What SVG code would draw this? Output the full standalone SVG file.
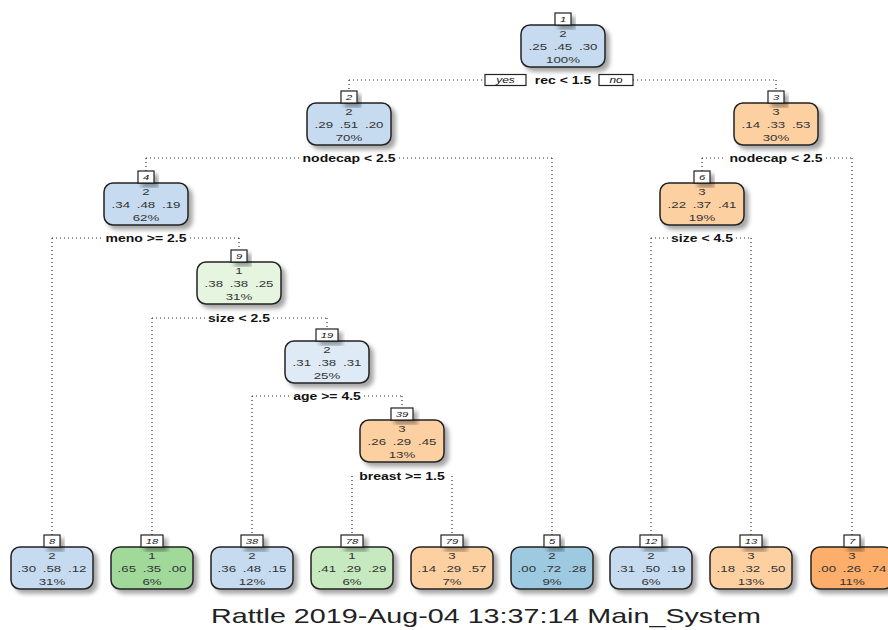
<svg xmlns="http://www.w3.org/2000/svg" width="888" height="630" viewBox="0 0 888 630">
<defs>
<filter id="sh" x="-20%" y="-20%" width="150%" height="160%"><feDropShadow dx="4" dy="4" stdDeviation="2" flood-color="#000" flood-opacity="0.35"/></filter>
</defs>
<style>
.box{stroke:#222;stroke-width:1.5;filter:url(#sh)}
.lab{fill:#fff;stroke:#222;stroke-width:1.2;filter:url(#sh)}
.blue{fill:#c6dbef}.pblue{fill:#deebf7}.dblue{fill:#9ecae1}
.or{fill:#fdd0a2}.dor{fill:#fdae6b}
.pg{fill:#e5f5e0}.lg{fill:#c7e9c0}.dg{fill:#a1d99b}
text{font-family:"Liberation Sans",Arial,sans-serif;text-anchor:middle}
.v{font-size:9.5px;fill:#333}
.id{font-size:8px;font-style:italic;fill:#111}
.sp{font-size:10px;font-weight:bold;fill:#111}
.yn{font-size:8.5px;font-style:italic;fill:#111}
.con line{stroke:#333;stroke-width:1.2;stroke-dasharray:1 3}
.cap{font-size:20.5px;fill:#222}
</style>
<rect width="888" height="630" fill="#fff"/>
<g class="con">
<line x1="349" y1="80" x2="485" y2="80"/><line x1="633" y1="80" x2="776" y2="80"/>
<line x1="349" y1="80" x2="349" y2="91"/><line x1="776" y1="80" x2="776" y2="91"/>
<line x1="146" y1="158" x2="299" y2="158"/><line x1="399" y1="158" x2="552" y2="158"/>
<line x1="146" y1="158" x2="146" y2="171"/><line x1="552" y1="158" x2="552" y2="535"/>
<line x1="702" y1="158" x2="726" y2="158"/><line x1="826" y1="158" x2="852" y2="158"/>
<line x1="702" y1="158" x2="702" y2="171"/><line x1="852" y1="158" x2="852" y2="535"/>
<line x1="52" y1="238" x2="102" y2="238"/><line x1="190" y1="238" x2="239" y2="238"/>
<line x1="52" y1="238" x2="52" y2="535"/><line x1="239" y1="238" x2="239" y2="250"/>
<line x1="651" y1="238" x2="668" y2="238"/><line x1="736" y1="238" x2="751" y2="238"/>
<line x1="651" y1="238" x2="651" y2="535"/><line x1="751" y1="238" x2="751" y2="535"/>
<line x1="152" y1="318" x2="205" y2="318"/><line x1="273" y1="318" x2="327" y2="318"/>
<line x1="152" y1="318" x2="152" y2="535"/><line x1="327" y1="318" x2="327" y2="329"/>
<line x1="252" y1="396" x2="290" y2="396"/><line x1="364" y1="396" x2="402" y2="396"/>
<line x1="252" y1="396" x2="252" y2="535"/><line x1="402" y1="396" x2="402" y2="408"/>
<line x1="352" y1="476" x2="352" y2="535"/><line x1="452" y1="476" x2="452" y2="535"/>
</g>
<g id="split-labels">
<rect x="485" y="74.5" width="41" height="11" fill="#fff" stroke="#222" stroke-width="1.2"/>
<text class="yn" transform="translate(505.5,83) scale(1.4,1)">yes</text>
<rect x="599" y="74.5" width="34" height="11" fill="#fff" stroke="#222" stroke-width="1.2"/>
<text class="yn" transform="translate(616,83) scale(1.4,1)">no</text>
<text class="sp" transform="translate(563,84) scale(1.4,1)">rec &lt; 1.5</text>
<text class="sp" transform="translate(349,162) scale(1.4,1)">nodecap &lt; 2.5</text>
<text class="sp" transform="translate(776,162) scale(1.4,1)">nodecap &lt; 2.5</text>
<text class="sp" transform="translate(146,242) scale(1.4,1)">meno &gt;= 2.5</text>
<text class="sp" transform="translate(702,242) scale(1.4,1)">size &lt; 4.5</text>
<text class="sp" transform="translate(239,322) scale(1.4,1)">size &lt; 2.5</text>
<text class="sp" transform="translate(327,400) scale(1.4,1)">age &gt;= 4.5</text>
<text class="sp" transform="translate(402,480) scale(1.4,1)">breast &gt;= 1.5</text>
</g>
<g id="node1"><rect class="box blue" x="521" y="25" width="84" height="42" rx="9"/><rect class="lab" x="555" y="13" width="16" height="12"/><text class="id" transform="translate(563,22) scale(1.4,1)">1</text><text class="v" transform="translate(563,36.5) scale(1.4,1)">2</text><text class="v" transform="translate(563,50) scale(1.4,1)"><tspan x="-18">.25</tspan><tspan x="0">.45</tspan><tspan x="18">.30</tspan></text><text class="v" transform="translate(563,62.5) scale(1.4,1)">100%</text></g>
<g id="node2"><rect class="box blue" x="307" y="103" width="84" height="42" rx="9"/><rect class="lab" x="341" y="91" width="16" height="12"/><text class="id" transform="translate(349,100) scale(1.4,1)">2</text><text class="v" transform="translate(349,114.5) scale(1.4,1)">2</text><text class="v" transform="translate(349,128) scale(1.4,1)"><tspan x="-18">.29</tspan><tspan x="0">.51</tspan><tspan x="18">.20</tspan></text><text class="v" transform="translate(349,140.5) scale(1.4,1)">70%</text></g>
<g id="node3"><rect class="box or" x="734" y="103" width="84" height="42" rx="9"/><rect class="lab" x="768" y="91" width="16" height="12"/><text class="id" transform="translate(776,100) scale(1.4,1)">3</text><text class="v" transform="translate(776,114.5) scale(1.4,1)">3</text><text class="v" transform="translate(776,128) scale(1.4,1)"><tspan x="-18">.14</tspan><tspan x="0">.33</tspan><tspan x="18">.53</tspan></text><text class="v" transform="translate(776,140.5) scale(1.4,1)">30%</text></g>
<g id="node4"><rect class="box blue" x="104" y="183" width="84" height="42" rx="9"/><rect class="lab" x="138" y="171" width="16" height="12"/><text class="id" transform="translate(146,180) scale(1.4,1)">4</text><text class="v" transform="translate(146,194.5) scale(1.4,1)">2</text><text class="v" transform="translate(146,208) scale(1.4,1)"><tspan x="-18">.34</tspan><tspan x="0">.48</tspan><tspan x="18">.19</tspan></text><text class="v" transform="translate(146,220.5) scale(1.4,1)">62%</text></g>
<g id="node6"><rect class="box or" x="660" y="183" width="84" height="42" rx="9"/><rect class="lab" x="694" y="171" width="16" height="12"/><text class="id" transform="translate(702,180) scale(1.4,1)">6</text><text class="v" transform="translate(702,194.5) scale(1.4,1)">3</text><text class="v" transform="translate(702,208) scale(1.4,1)"><tspan x="-18">.22</tspan><tspan x="0">.37</tspan><tspan x="18">.41</tspan></text><text class="v" transform="translate(702,220.5) scale(1.4,1)">19%</text></g>
<g id="node9"><rect class="box pg" x="197" y="262" width="84" height="42" rx="9"/><rect class="lab" x="231" y="250" width="16" height="12"/><text class="id" transform="translate(239,259) scale(1.4,1)">9</text><text class="v" transform="translate(239,273.5) scale(1.4,1)">1</text><text class="v" transform="translate(239,287) scale(1.4,1)"><tspan x="-18">.38</tspan><tspan x="0">.38</tspan><tspan x="18">.25</tspan></text><text class="v" transform="translate(239,299.5) scale(1.4,1)">31%</text></g>
<g id="node19"><rect class="box pblue" x="285" y="341" width="84" height="42" rx="9"/><rect class="lab" x="316" y="329" width="22" height="12"/><text class="id" transform="translate(327,338) scale(1.4,1)">19</text><text class="v" transform="translate(327,352.5) scale(1.4,1)">2</text><text class="v" transform="translate(327,366) scale(1.4,1)"><tspan x="-18">.31</tspan><tspan x="0">.38</tspan><tspan x="18">.31</tspan></text><text class="v" transform="translate(327,378.5) scale(1.4,1)">25%</text></g>
<g id="node39"><rect class="box or" x="360" y="420" width="84" height="42" rx="9"/><rect class="lab" x="391" y="408" width="22" height="12"/><text class="id" transform="translate(402,417) scale(1.4,1)">39</text><text class="v" transform="translate(402,431.5) scale(1.4,1)">3</text><text class="v" transform="translate(402,445) scale(1.4,1)"><tspan x="-18">.26</tspan><tspan x="0">.29</tspan><tspan x="18">.45</tspan></text><text class="v" transform="translate(402,457.5) scale(1.4,1)">13%</text></g>
<g id="node8"><rect class="box blue" x="11" y="547" width="82" height="42" rx="9"/><rect class="lab" x="44" y="535" width="16" height="12"/><text class="id" transform="translate(52,544) scale(1.4,1)">8</text><text class="v" transform="translate(52,558.5) scale(1.4,1)">2</text><text class="v" transform="translate(52,572) scale(1.4,1)"><tspan x="-18">.30</tspan><tspan x="0">.58</tspan><tspan x="18">.12</tspan></text><text class="v" transform="translate(52,584.5) scale(1.4,1)">31%</text></g>
<g id="node18"><rect class="box dg" x="111" y="547" width="82" height="42" rx="9"/><rect class="lab" x="141" y="535" width="22" height="12"/><text class="id" transform="translate(152,544) scale(1.4,1)">18</text><text class="v" transform="translate(152,558.5) scale(1.4,1)">1</text><text class="v" transform="translate(152,572) scale(1.4,1)"><tspan x="-18">.65</tspan><tspan x="0">.35</tspan><tspan x="18">.00</tspan></text><text class="v" transform="translate(152,584.5) scale(1.4,1)">6%</text></g>
<g id="node38"><rect class="box blue" x="211" y="547" width="82" height="42" rx="9"/><rect class="lab" x="241" y="535" width="22" height="12"/><text class="id" transform="translate(252,544) scale(1.4,1)">38</text><text class="v" transform="translate(252,558.5) scale(1.4,1)">2</text><text class="v" transform="translate(252,572) scale(1.4,1)"><tspan x="-18">.36</tspan><tspan x="0">.48</tspan><tspan x="18">.15</tspan></text><text class="v" transform="translate(252,584.5) scale(1.4,1)">12%</text></g>
<g id="node78"><rect class="box lg" x="311" y="547" width="82" height="42" rx="9"/><rect class="lab" x="341" y="535" width="22" height="12"/><text class="id" transform="translate(352,544) scale(1.4,1)">78</text><text class="v" transform="translate(352,558.5) scale(1.4,1)">1</text><text class="v" transform="translate(352,572) scale(1.4,1)"><tspan x="-18">.41</tspan><tspan x="0">.29</tspan><tspan x="18">.29</tspan></text><text class="v" transform="translate(352,584.5) scale(1.4,1)">6%</text></g>
<g id="node79"><rect class="box or" x="411" y="547" width="82" height="42" rx="9"/><rect class="lab" x="441" y="535" width="22" height="12"/><text class="id" transform="translate(452,544) scale(1.4,1)">79</text><text class="v" transform="translate(452,558.5) scale(1.4,1)">3</text><text class="v" transform="translate(452,572) scale(1.4,1)"><tspan x="-18">.14</tspan><tspan x="0">.29</tspan><tspan x="18">.57</tspan></text><text class="v" transform="translate(452,584.5) scale(1.4,1)">7%</text></g>
<g id="node5"><rect class="box dblue" x="511" y="547" width="82" height="42" rx="9"/><rect class="lab" x="544" y="535" width="16" height="12"/><text class="id" transform="translate(552,544) scale(1.4,1)">5</text><text class="v" transform="translate(552,558.5) scale(1.4,1)">2</text><text class="v" transform="translate(552,572) scale(1.4,1)"><tspan x="-18">.00</tspan><tspan x="0">.72</tspan><tspan x="18">.28</tspan></text><text class="v" transform="translate(552,584.5) scale(1.4,1)">9%</text></g>
<g id="node12"><rect class="box blue" x="610" y="547" width="82" height="42" rx="9"/><rect class="lab" x="640" y="535" width="22" height="12"/><text class="id" transform="translate(651,544) scale(1.4,1)">12</text><text class="v" transform="translate(651,558.5) scale(1.4,1)">2</text><text class="v" transform="translate(651,572) scale(1.4,1)"><tspan x="-18">.31</tspan><tspan x="0">.50</tspan><tspan x="18">.19</tspan></text><text class="v" transform="translate(651,584.5) scale(1.4,1)">6%</text></g>
<g id="node13"><rect class="box or" x="710" y="547" width="82" height="42" rx="9"/><rect class="lab" x="740" y="535" width="22" height="12"/><text class="id" transform="translate(751,544) scale(1.4,1)">13</text><text class="v" transform="translate(751,558.5) scale(1.4,1)">3</text><text class="v" transform="translate(751,572) scale(1.4,1)"><tspan x="-18">.18</tspan><tspan x="0">.32</tspan><tspan x="18">.50</tspan></text><text class="v" transform="translate(751,584.5) scale(1.4,1)">13%</text></g>
<g id="node7"><rect class="box dor" x="811" y="547" width="82" height="42" rx="9"/><rect class="lab" x="844" y="535" width="16" height="12"/><text class="id" transform="translate(852,544) scale(1.4,1)">7</text><text class="v" transform="translate(852,558.5) scale(1.4,1)">3</text><text class="v" transform="translate(852,572) scale(1.4,1)"><tspan x="-18">.00</tspan><tspan x="0">.26</tspan><tspan x="18">.74</tspan></text><text class="v" transform="translate(852,584.5) scale(1.4,1)">11%</text></g>
<text class="cap" transform="translate(486,623) scale(1.4,1)">Rattle 2019-Aug-04 13:37:14 Main_System</text>
</svg>
